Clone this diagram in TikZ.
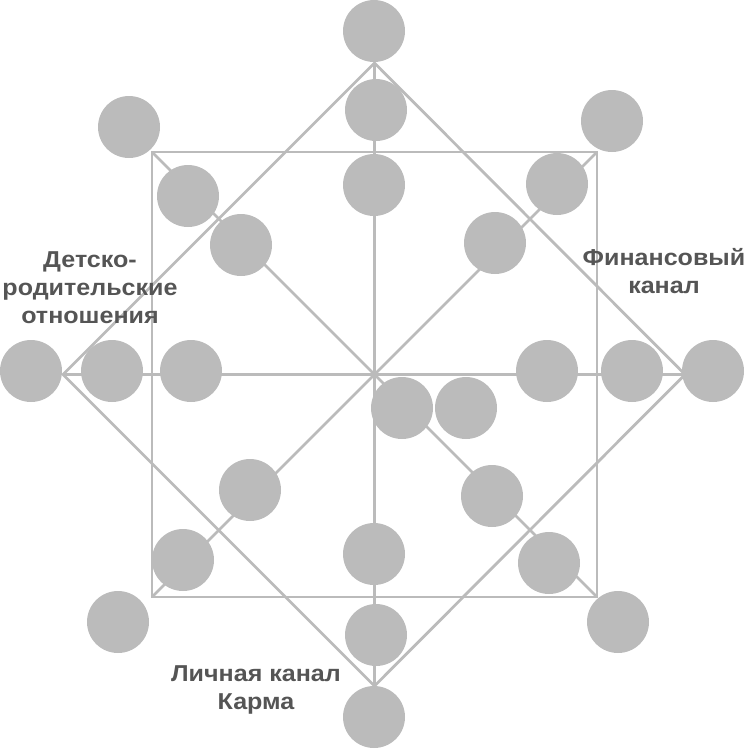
\documentclass[tikz,border=0pt]{standalone}
\usepackage{fontspec}
\setmainfont{Liberation Sans}[FakeStretch=1.09]
\definecolor{dotgray}{HTML}{BBBBBB}
\definecolor{txtgray}{HTML}{555555}
\begin{document}
\begin{tikzpicture}[x=1pt,y=-1pt,
  ln/.style={draw=dotgray,line width=2.8pt},
  dotnode/.style={circle,fill=dotgray,minimum size=62pt,inner sep=0pt},
  lbl/.style={text=txtgray,font=\bfseries\fontsize{23}{28}\selectfont,align=center,inner sep=0pt,anchor=north}]
\useasboundingbox (0,0) rectangle (750,750);
% frame coordinates
\coordinate (C) at (374.5,374.5);
\coordinate (SQ1) at (152,152);
\coordinate (SQ2) at (597,152);
\coordinate (SQ3) at (597,597);
\coordinate (SQ4) at (152,597);
\coordinate (DT) at (374.5,63);
\coordinate (DR) at (685,374.5);
\coordinate (DB) at (374.5,686);
\coordinate (DL) at (63,374.5);
% lines
\draw[ln] (SQ1) -- (SQ2) -- (SQ3) -- (SQ4) -- cycle;
\draw[ln] (DT) -- (DR) -- (DB) -- (DL) -- cycle;
\draw[ln] (DT) -- (DB);
\draw[ln] (DL) -- (DR);
\draw[ln] (SQ1) -- (SQ3);
\draw[ln] (SQ2) -- (SQ4);
% circles
\node[dotnode] (t1) at (374,31) {};
\node[dotnode] (t2) at (376,110) {};
\node[dotnode] (t3) at (374,185) {};
\node[dotnode] (tl1) at (129,127) {};
\node[dotnode] (tl2) at (188,196) {};
\node[dotnode] (tl3) at (241,245) {};
\node[dotnode] (tr1) at (612,121) {};
\node[dotnode] (tr2) at (557,184) {};
\node[dotnode] (tr3) at (495,243) {};
\node[dotnode] (l1) at (31,371) {};
\node[dotnode] (l2) at (112,371) {};
\node[dotnode] (l3) at (191,371) {};
\node[dotnode] (r1) at (547,371) {};
\node[dotnode] (r2) at (632,371) {};
\node[dotnode] (r3) at (713,371) {};
\node[dotnode] (c1) at (402,408) {};
\node[dotnode] (c2) at (466,408) {};
\node[dotnode] (bl1) at (250,490) {};
\node[dotnode] (bl2) at (183,560) {};
\node[dotnode] (bl3) at (118,622) {};
\node[dotnode] (br1) at (492,496) {};
\node[dotnode] (br2) at (549,563) {};
\node[dotnode] (br3) at (618,622) {};
\node[dotnode] (b1) at (374,554) {};
\node[dotnode] (b2) at (376,635) {};
\node[dotnode] (b3) at (374,717) {};
% labels
\node[lbl] (lab1) at (90,251) {Детско-\\родительские\\отношения};
\node[lbl] (lab2) at (664,248) {Финансовый\\канал};
\node[lbl] (lab3) at (256,665) {Личная канал\\Карма};
\end{tikzpicture}
\end{document}
